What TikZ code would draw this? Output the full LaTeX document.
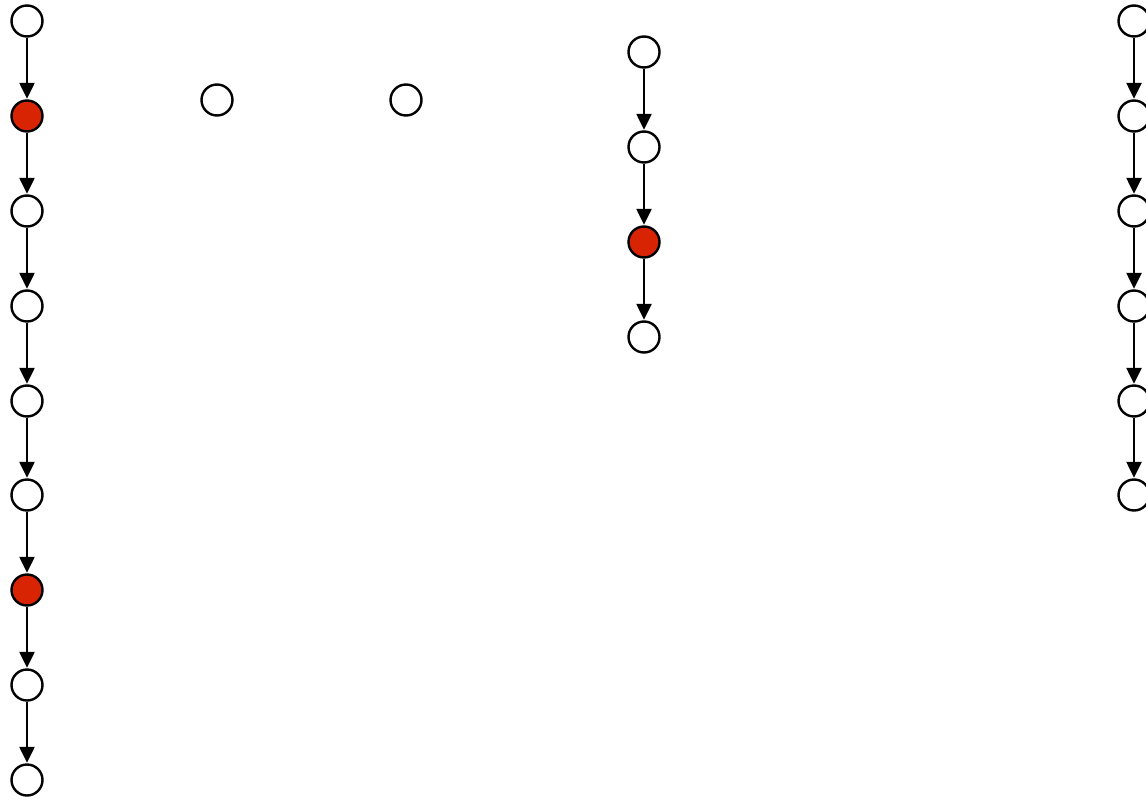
\documentclass[tikz,border=0pt]{standalone}
\usetikzlibrary{arrows.meta}
\definecolor{nodered}{RGB}{217,36,4}
\begin{document}
\begin{tikzpicture}[x=1pt,y=-1pt,
  vtx/.style={circle,draw=black,line width=2.4pt,fill=white,minimum size=31pt,inner sep=0pt},
  hot/.style={vtx,fill=nodered},
  edge/.style={line width=2.4pt,-{Triangle[length=16pt,width=15pt]},shorten >=0.5pt}]
\useasboundingbox (0,0) rectangle (1146,800);
% left column
\node[vtx] (a1) at (27,21) {};
\node[hot] (a2) at (27,116) {};
\node[vtx] (a3) at (27,211) {};
\node[vtx] (a4) at (27,306) {};
\node[vtx] (a5) at (27,401) {};
\node[vtx] (a6) at (27,495) {};
\node[hot] (a7) at (27,590) {};
\node[vtx] (a8) at (27,685) {};
\node[vtx] (a9) at (27,780) {};
\foreach \i/\j in {a1/a2,a2/a3,a3/a4,a4/a5,a5/a6,a6/a7,a7/a8,a8/a9}
  \draw[edge] (\i) -- (\j);
% isolated
\node[vtx] (b1) at (217,100) {};
\node[vtx] (b2) at (406,100) {};
% middle column
\node[vtx] (c1) at (644,52) {};
\node[vtx] (c2) at (644,147) {};
\node[hot] (c3) at (644,242) {};
\node[vtx] (c4) at (644,337) {};
\foreach \i/\j in {c1/c2,c2/c3,c3/c4}
  \draw[edge] (\i) -- (\j);
% right column
\node[vtx] (d1) at (1134,21) {};
\node[vtx] (d2) at (1134,116) {};
\node[vtx] (d3) at (1134,211) {};
\node[vtx] (d4) at (1134,306) {};
\node[vtx] (d5) at (1134,401) {};
\node[vtx] (d6) at (1134,495) {};
\foreach \i/\j in {d1/d2,d2/d3,d3/d4,d4/d5,d5/d6}
  \draw[edge] (\i) -- (\j);
\end{tikzpicture}
\end{document}
